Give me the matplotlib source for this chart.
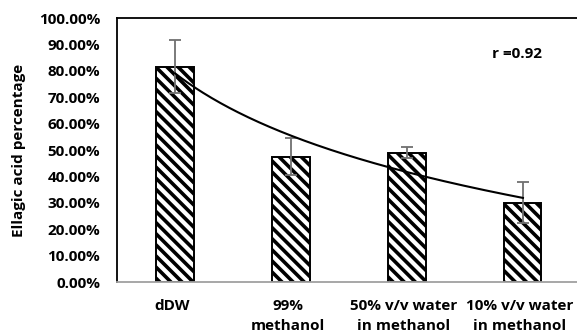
import numpy as np
import matplotlib
matplotlib.use("Agg")
import matplotlib.pyplot as plt
from matplotlib.transforms import ScaledTranslation

# Data
categories = ["dDW", "99%\nmethanol", "50% v/v water\nin methanol", "10% v/v water\nin methanol"]
values = [81.5, 47.5, 49.0, 30.0]
errors = [10.0, 7.0, 2.2, 7.7]
r_label = "r =0.92"

plt.rcParams["font.family"] = ["Open Sans", "DejaVu Sans"]
plt.rcParams["font.weight"] = "bold"
plt.rcParams["hatch.linewidth"] = 2.6

fig = plt.figure(figsize=(5.77, 3.36), dpi=100)
ax = fig.add_axes([0.2028, 0.1607, 0.804, 0.7857])

x = np.arange(len(categories))
ax.bar(x, values, width=0.32, color="white", edgecolor="black", linewidth=1.4,
       hatch="\\\\\\", zorder=2)
ax.errorbar(x, values, yerr=errors, fmt="none", ecolor="#707070", elinewidth=1.3,
            capsize=4, capthick=1.3, zorder=3)

# logarithmic trendline (fit of the values)
xs = x + 1
a, b = np.polyfit(np.log(xs), values, 1)
xx = np.linspace(1, 4, 200)
ax.plot(xx - 1, a * np.log(xx) + b, color="black", linewidth=1.5, zorder=4)

ax.set_xlim(-0.5, 3.5)
ax.set_ylim(0, 100)
ax.set_yticks(np.arange(0, 101, 10))
ax.set_yticklabels([f"{v:.2f}%" for v in np.arange(0, 101, 10)])
ax.set_xticks(x)
ax.set_xticklabels(categories, linespacing=1.55)
ax.tick_params(axis="y", length=0, pad=12, labelsize=11)
ax.tick_params(axis="x", length=0, pad=12, labelsize=11)
shift = ScaledTranslation(-3 / 100, 0, fig.dpi_scale_trans)
for lab in ax.get_xticklabels():
    lab.set_transform(lab.get_transform() + shift)
for lab in ax.get_xticklabels() + ax.get_yticklabels():
    lab.set_fontweight("bold")

for s in ["left", "top", "right"]:
    ax.spines[s].set_color("black")
    ax.spines[s].set_linewidth(1.3)
ax.spines["bottom"].set_color("#a0a0a0")
ax.spines["bottom"].set_linewidth(1.3)

ax.set_ylabel("Ellagic acid percentage", fontsize=11, fontweight="bold", labelpad=9)
ax.text(0.808, 0.865, r_label, transform=ax.transAxes, fontsize=11, fontweight="bold",
        ha="left", va="center")

fig.savefig("out.png", dpi=100)
